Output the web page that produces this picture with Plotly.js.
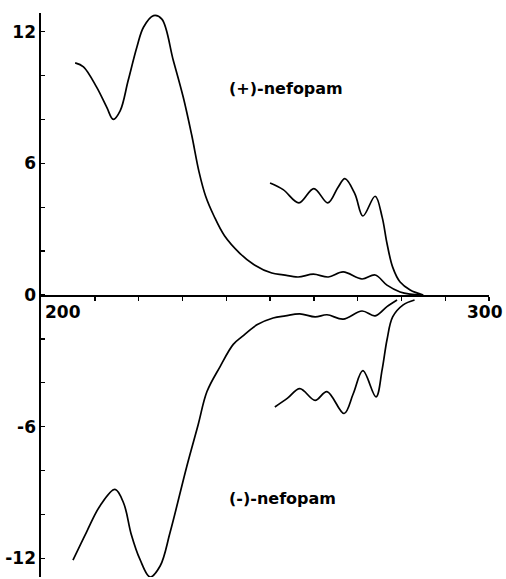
<!DOCTYPE html>
<html>
<head>
<meta charset="utf-8">
<script src="https://cdn.plot.ly/plotly-3.0.1.min.js"></script>
<style>html,body{margin:0;padding:0;background:#fff}#chart{width:506px;height:579px}</style>
</head>
<body>
<div id="chart"></div>
<script>
// (+)-nefopam, full spectrum
const plusMainX = [205.5, 207.4, 210.4, 212.7, 214.2, 215.8, 217.6, 219.6, 221.1, 223.4, 225.3, 227.9, 230.2, 232.1, 233.8, 235.3, 237.2, 239.6, 243.1, 246.2, 250.4, 253, 256.4, 259.9, 263.3, 266.7, 271, 274, 276.7, 279.7, 282, 284.7];
const plusMainY = [10.58, 10.4, 9.47, 8.56, 8.0, 8.4, 9.77, 11.3, 12.2, 12.73, 12.57, 10.7, 9.0, 7.3, 5.6, 4.5, 3.6, 2.7, 1.9, 1.4, 1.0, 0.92, 0.82, 0.95, 0.82, 1.05, 0.73, 0.91, 0.45, 0.14, 0.04, 0.0];
// (+)-nefopam, expanded 250-285 nm region
const plusExpX = [250, 253, 256.6, 260, 263.2, 265.5, 267.1, 269.4, 271.2, 274, 275.6, 276.7, 278, 279.7, 282, 285];
const plusExpY = [5.1, 4.8, 4.2, 4.85, 4.2, 4.9, 5.3, 4.6, 3.6, 4.5, 3.55, 2.36, 1.27, 0.59, 0.23, 0.0];
// (-)-nefopam, full spectrum
const minusMainX = [205, 208.1, 211.2, 214.6, 216.6, 218.3, 220.3, 222.6, 224.9, 227.2, 231, 233.6, 235.6, 238.6, 241.6, 243.6, 247, 250.7, 253.5, 256.8, 260.3, 263, 266.7, 271, 274, 276.7, 279];
const minusMainY = [-12.08, -10.8, -9.6, -8.86, -9.5, -10.9, -12.05, -12.85, -12.35, -10.8, -7.8, -5.9, -4.4, -3.26, -2.25, -1.9, -1.36, -1.05, -0.95, -0.86, -1.0, -0.9, -1.1, -0.73, -0.95, -0.53, -0.23];
// (-)-nefopam, expanded 250-285 nm region
const minusExpX = [251.1, 254, 256.8, 260.3, 263, 266.9, 269, 271.2, 274.2, 275.6, 276.7, 278, 280.4, 283];
const minusExpY = [-5.1, -4.7, -4.27, -4.8, -4.4, -5.4, -4.5, -3.45, -4.64, -3.4, -2.05, -1.0, -0.45, -0.23];

const yTickVals = [-12, -10, -8, -6, -4, -2, 0, 2, 4, 6, 8, 10, 12];
const yTickText = ['-12', '', '', '-6', '', '', '0', '', '', '6', '', '', '12'];
const xTickVals = [210, 220, 230, 240, 250, 260, 270, 280, 290, 300];
const xLabels = ['200', '300'];
const curveLabels = ['(+)-nefopam', '(-)-nefopam'];

const FONT = 'DejaVu Sans, Liberation Sans, sans-serif';
const line = {color: '#000', width: 1.7, shape: 'spline', smoothing: 1};
const mk = (x, y) => ({x, y, type: 'scatter', mode: 'lines', line, hoverinfo: 'skip'});

const data = [mk(plusMainX, plusMainY), mk(plusExpX, plusExpY), mk(minusMainX, minusMainY), mk(minusExpX, minusExpY)];

const layout = {
  width: 506, height: 579,
  margin: {l: 41, r: 17, t: 13, b: 2},
  paper_bgcolor: '#fff', plot_bgcolor: '#fff',
  showlegend: false,
  font: {family: FONT, color: '#000', size: 16},
  xaxis: {
    range: [197.7, 300], anchor: 'free', position: 0.5,
    showline: true, linecolor: '#000', linewidth: 1.6,
    showgrid: false, zeroline: false,
    tickmode: 'array', tickvals: xTickVals, showticklabels: false,
    ticks: 'outside', ticklen: 4, tickwidth: 1.4, tickcolor: '#000'
  },
  yaxis: {
    range: [-12.85, 12.85],
    showline: true, linecolor: '#000', linewidth: 1.6,
    showgrid: false, zeroline: false,
    tickmode: 'array', tickvals: yTickVals, ticktext: yTickText,
    ticks: 'inside', ticklen: 4, tickwidth: 1.4, tickcolor: '#000',
    tickfont: {family: FONT, size: 17, color: '#000', weight: 'bold'}
  },
  annotations: [
    {x: 200, y: 0, xref: 'x', yref: 'y', text: xLabels[0], showarrow: false, xanchor: 'left', yanchor: 'top', xshift: -8, yshift: -5, font: {family: FONT, size: 17, weight: 'bold'}},
    {x: 300, y: 0, xref: 'x', yref: 'y', text: xLabels[1], showarrow: false, xanchor: 'center', yanchor: 'top', xshift: -4, yshift: -5, font: {family: FONT, size: 17, weight: 'bold'}},
    {x: 240.2, y: 9.4, xref: 'x', yref: 'y', text: curveLabels[0], showarrow: false, xanchor: 'left', yanchor: 'middle', font: {family: FONT, size: 16, weight: 'bold'}},
    {x: 240.2, y: -9.25, xref: 'x', yref: 'y', text: curveLabels[1], showarrow: false, xanchor: 'left', yanchor: 'middle', font: {family: FONT, size: 16, weight: 'bold'}}
  ]
};

Plotly.newPlot('chart', data, layout, {displayModeBar: false, staticPlot: true});
</script>
</body>
</html>
